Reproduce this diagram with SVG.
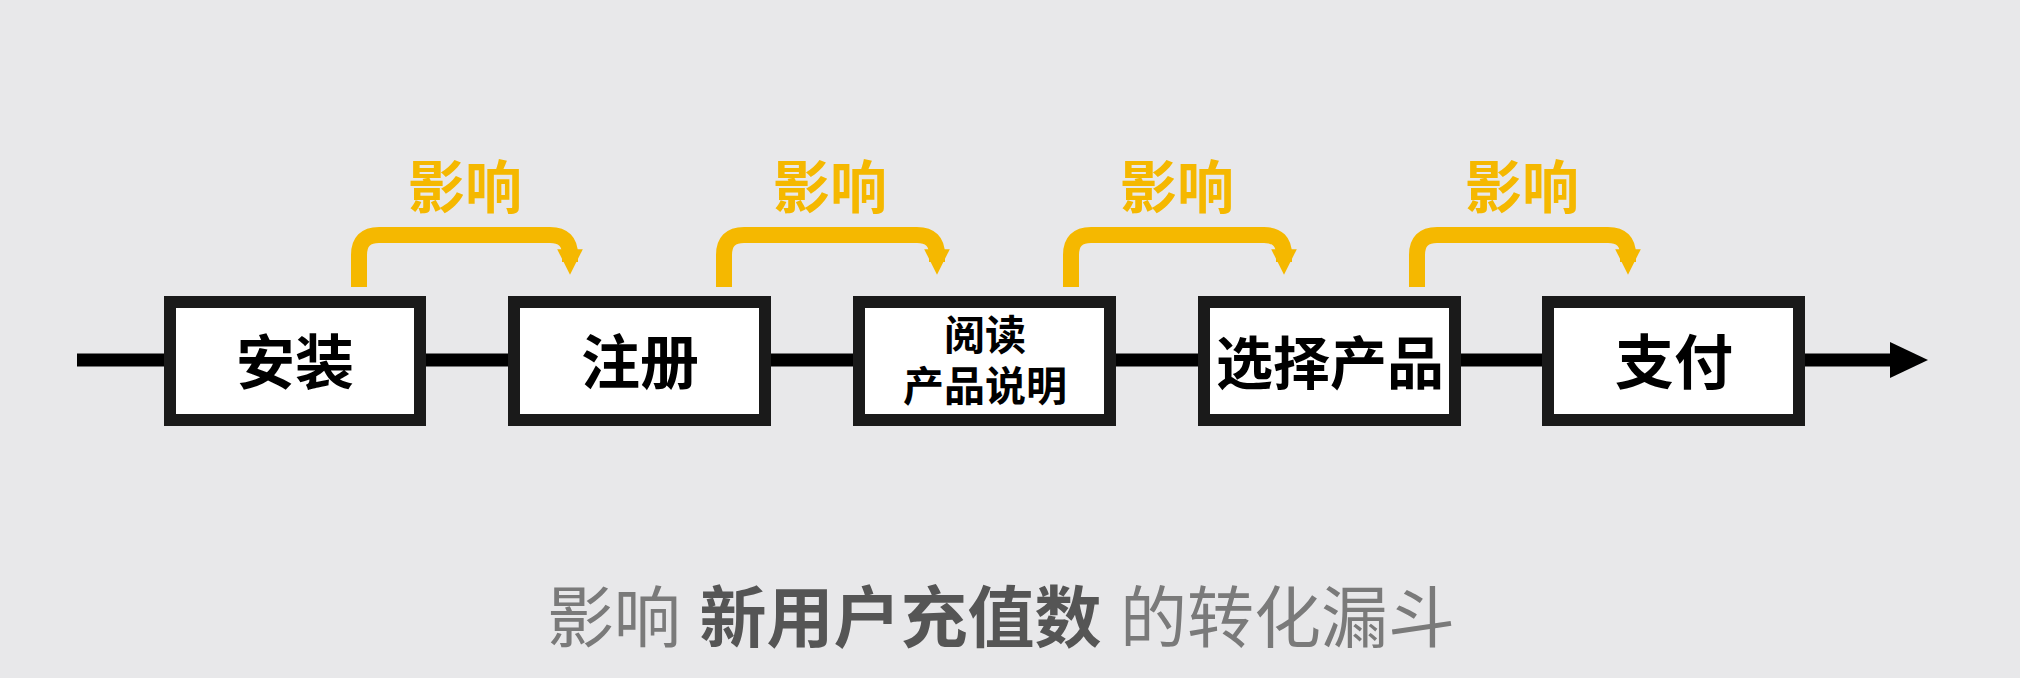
<svg xmlns="http://www.w3.org/2000/svg" width="2020" height="678" viewBox="0 0 2020 678">
<style>
.box{fill:#fff;stroke:#1a1a1a;stroke-width:12}
.t{font-family:"Liberation Sans","Noto Sans CJK SC",sans-serif;font-weight:bold;fill:#000;text-anchor:middle}
.br{fill:none;stroke:#f5b800;stroke-width:16}
.lbl{font-family:"Liberation Sans","Noto Sans CJK SC",sans-serif;font-weight:bold;fill:#f5b800;font-size:57px;text-anchor:middle}
</style>
<defs>
<marker id="ya" viewBox="0 0 10 10" refX="5" refY="5" markerWidth="2" markerHeight="1.6" orient="auto" markerUnits="strokeWidth"><path d="M0,0L10,5L0,10z" fill="#f5b800"/></marker>
</defs>
<rect width="2020" height="678" fill="#e8e8ea"/>
<g id="connectors">
<line x1="77" y1="360" x2="1895" y2="360" stroke="#000" stroke-width="13"/>
<path d="M1890,342L1928,360L1890,378z" fill="#000"/>
<path class="br" d="M359,287V255Q359,235 379,235H550Q570,235 570,255V262" marker-end="url(#ya)"/>
<path class="br" d="M724,287V255Q724,235 744,235H917Q937,235 937,255V262" marker-end="url(#ya)"/>
<path class="br" d="M1071,287V255Q1071,235 1091,235H1264Q1284,235 1284,255V262" marker-end="url(#ya)"/>
<path class="br" d="M1417,287V255Q1417,235 1437,235H1608Q1628,235 1628,255V262" marker-end="url(#ya)"/>
<text class="lbl" x="465" y="208">影响</text>
<text class="lbl" x="830" y="208">影响</text>
<text class="lbl" x="1177" y="208">影响</text>
<text class="lbl" x="1522" y="208">影响</text>
</g>
<g id="n1"><rect class="box" x="170" y="302" width="250" height="118"/><text class="t" x="295" y="384" font-size="59">安装</text></g>
<g id="n2"><rect class="box" x="514" y="302" width="251" height="118"/><text class="t" x="640" y="384" font-size="59">注册</text></g>
<g id="n3"><rect class="box" x="859" y="302" width="251" height="118"/><text class="t" x="985" y="350" font-size="41">阅读</text><text class="t" x="985" y="401" font-size="41">产品说明</text></g>
<g id="n4"><rect class="box" x="1204" y="302" width="251" height="118"/><text class="t" x="1330" y="384" font-size="57">选择产品</text></g>
<g id="n5"><rect class="box" x="1548" y="302" width="251" height="118"/><text class="t" x="1674" y="384" font-size="59">支付</text></g>
<text x="1001" y="642" font-family="'Liberation Sans','Noto Sans CJK SC',sans-serif" font-size="67" fill="#7a7a7a" text-anchor="middle">影响 <tspan font-weight="bold" fill="#555">新用户充值数</tspan> 的转化漏斗</text>
</svg>
